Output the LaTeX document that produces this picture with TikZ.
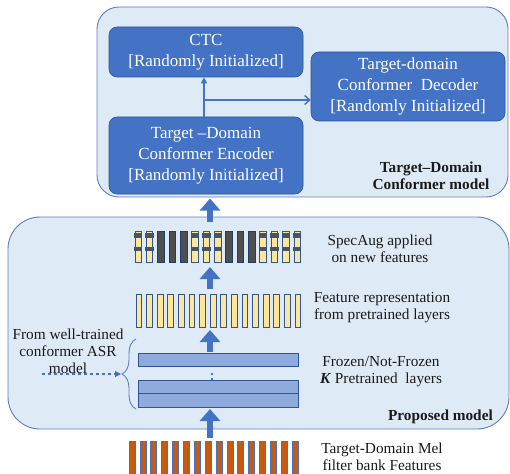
\documentclass[tikz,border=0pt]{standalone}
\usepackage{fontspec}
\setmainfont{Liberation Serif}
\usetikzlibrary{arrows.meta,decorations.pathreplacing}
\definecolor{bluebox}{HTML}{4472C4}
\definecolor{blueedge}{HTML}{2F5597}
\definecolor{bgfill}{HTML}{DEEAF6}
\definecolor{bgedge}{HTML}{5B7FC0}
\definecolor{featyel}{HTML}{FFE699}
\definecolor{darkbar}{HTML}{4F4F4F}
\definecolor{stripe}{HTML}{44546A}
\definecolor{layerfill}{HTML}{8FAADC}
\definecolor{melorange}{HTML}{C55A11}
\definecolor{txt}{HTML}{1A1A1A}
\tikzset{
  panel/.style={draw=bgedge, fill=bgfill, line width=0.9pt, inner sep=0pt},
  blockbox/.style={draw=blueedge, fill=bluebox, rounded corners=8pt, line width=0.6pt,
    text=white, align=center, font=\fontsize{17}{21}\selectfont,
    minimum width=194pt, inner sep=0pt},
  lbl/.style={align=center, text=txt, font=\fontsize{15.3}{17}\selectfont, inner sep=0pt},
  blbl/.style={align=center, text=txt, font=\fontsize{15.3}{17}\selectfont\bfseries, inner sep=0pt},
  layerbar/.style={draw=blueedge, fill=layerfill, line width=0.8pt, inner sep=0pt, minimum width=160pt},
  bigarrow/.style={draw=bluebox, line width=6pt, -{Triangle[width=20pt,length=12pt]}},
  thinarrow/.style={draw=bluebox, line width=1.4pt},
}
\begin{document}
\begin{tikzpicture}[x=1pt,y=-1pt]
\useasboundingbox (0,0) rectangle (510,473);

% containers
\node[panel, rounded corners=22pt, minimum width=411pt, minimum height=190pt] (topbox) at (302.5,102) {};
\node[panel, rounded corners=32pt, minimum width=501pt, minimum height=212pt] (propbox) at (258.5,323) {};

% top blocks
\node[blockbox, minimum height=50pt] (ctc) at (206,52) {CTC\\{}[Randomly Initialized]};
\node[blockbox, minimum height=69pt] (dec) at (408,86.5) {Target-domain\\Conformer\ \ Decoder\\{}[Randomly Initialized]};
\node[blockbox, minimum height=77pt] (enc) at (206,155.5) {Target --Domain\\Conformer Encoder\\{}[Randomly Initialized]};
\coordinate (j) at (204,100);
\draw[thinarrow, -{Triangle[length=6pt,width=6pt]}] (enc.north -| j) -- (ctc.south -| j);
\draw[thinarrow, -{Straight Barb[length=5pt,width=9pt]}] (j) -- (j -| dec.west);
\node[blbl, anchor=center] (tdlbl) at (431,176) {Target–Domain\\Conformer model};

% arrow between panels
\coordinate (a1s) at (210,222);
\coordinate (a1e) at (210,198.5);
\draw[bigarrow] (a1s) -- (a1e);

% SpecAug row
\foreach \i/\t in {0/1,1/1,2/0,3/0,4/0,5/1,6/1,7/1,8/0,9/0,10/0,11/1,12/1,13/1,14/1}{
  \pgfmathsetmacro{\xl}{135+11.35*\i}
  \ifnum\t=1
    \filldraw[fill=featyel, draw=blueedge, line width=0.8pt] (\xl,231) rectangle (\xl+6.5,262);
    \fill[stripe] (\xl-0.9,233) rectangle (\xl+7.4,237.5);
    \fill[stripe] (\xl-0.9,247) rectangle (\xl+7.4,251);
  \else
    \filldraw[fill=darkbar, draw=blueedge!70!black, line width=0.8pt] (\xl,231) rectangle (\xl+6.5,262);
  \fi
}
\node[lbl] (speclbl) at (380,249) {SpecAug applied\\on new features};

\coordinate (a2s) at (210,289);
\coordinate (a2e) at (210,267);
\draw[bigarrow] (a2s) -- (a2e);

% feature row
\foreach \i in {0,...,15}{
  \pgfmathsetmacro{\xl}{136+10.6*\i}
  \filldraw[fill=featyel, draw=blueedge, line width=0.8pt] (\xl,294) rectangle (\xl+5.7,327);
}
\node[lbl] (featlbl) at (382,308) {Feature representation\\from pretrained layers};

% layers
\node[layerbar, minimum height=13pt] (l1) at (218.5,359.5) {};
\node[layerbar, minimum height=27pt] (l2) at (218,393.5) {};
\draw[blueedge, line width=1pt] (l2.west) -- (l2.east);
\fill[bluebox] (210.8,372.5) rectangle (212.8,374.5);
\fill[bluebox] (210.8,378) rectangle (212.8,380);
\coordinate (a3s) at (210,352);
\coordinate (a3e) at (210,330);
\draw[bigarrow] (a3s) -- (a3e);
\node[lbl] (frozenlbl) at (381,372) {Frozen/Not-Frozen\\\textbf{\textit{K}} Pretrained\ \ layers};

% brace and dashed arrow
\draw[bgedge, line width=0.9pt, decorate, decoration={brace, amplitude=14pt}] (136,409) -- (136,339);
\coordinate (btip) at (121,374);
\coordinate (dst) at (42,374);
\draw[bluebox, line width=1.1pt, dashed, -{Triangle[length=6pt,width=6pt]}] (dst) -- (btip);
\node[lbl] (fromlbl) at (68,351) {From well-trained\\conformer ASR\\model};

\node[blbl, anchor=east] (proplbl) at (493,417) {Proposed model};

% mel features
\coordinate (a4s) at (210,438);
\coordinate (a4e) at (210,409);
\draw[bigarrow] (a4s) -- (a4e);
\foreach \i in {0,...,15}{
  \pgfmathsetmacro{\xl}{129+10.87*\i}
  \filldraw[fill=melorange, draw=bluebox, line width=0.6pt] (\xl,441) rectangle (\xl+6,476);
}
\node[lbl] (mellbl) at (382,457) {Target-Domain Mel\\filter bank Features};
\end{tikzpicture}
\end{document}
